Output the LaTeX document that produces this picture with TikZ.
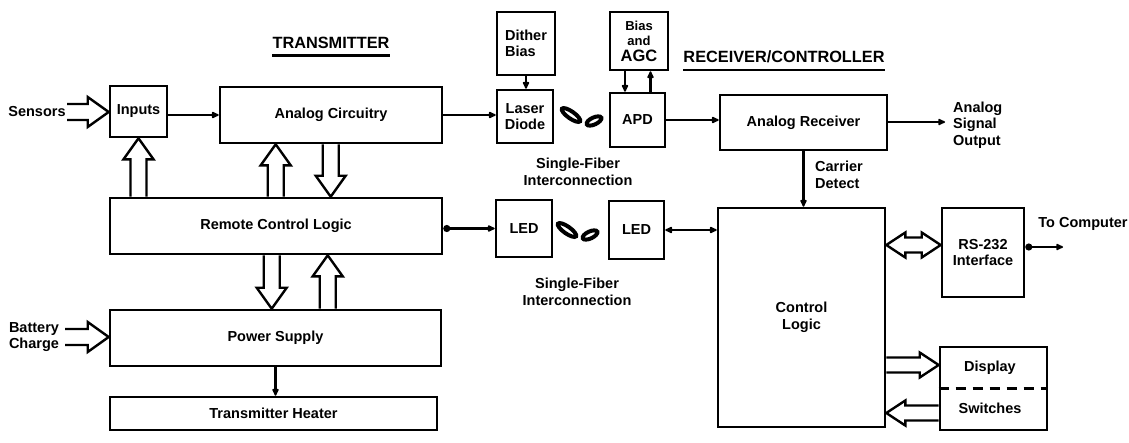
\documentclass[tikz,border=0pt]{standalone}
\usepackage{fontspec}
\setmainfont{Liberation Sans}
\usetikzlibrary{arrows.meta,calc}
% hollow arrow sizes
\def\HAw{8}\def\HAW{15}\def\HAH{21}
\newcommand\getvec[2]{%
  \path let \p1=#1, \p2=#2, \n1={atan2(\y2-\y1,\x2-\x1)}, \n2={veclen(\x2-\x1,\y2-\y1)} in
    \pgfextra{\pgfmathsetmacro\HAang{\n1}\pgfmathsetmacro\HAlenv{\n2}\xdef\HAang{\HAang}\xdef\HAlen{\HAlenv}\xdef\HAx{\x1}\xdef\HAy{\y1}};}
\newcommand\HArrow[2]{%
  \getvec{#1}{#2}%
  \begin{scope}[shift={(\HAx,\HAy)}, rotate=\HAang]
    \draw[hollow] (0pt,-\HAw pt) -- ({(\HAlen-\HAH)*1pt},-\HAw pt) -- ({(\HAlen-\HAH)*1pt},-\HAW pt)
      -- ({\HAlen*1pt},0pt) -- ({(\HAlen-\HAH)*1pt},\HAW pt) -- ({(\HAlen-\HAH)*1pt},\HAw pt) -- (0pt,\HAw pt);
  \end{scope}}
\newcommand\HDArrow[2]{%
  \getvec{#1}{#2}%
  \begin{scope}[shift={(\HAx,\HAy)}, rotate=\HAang]
    \draw[hollow] (\HAH pt,-\HAw pt) -- ({(\HAlen-\HAH)*1pt},-\HAw pt) -- ({(\HAlen-\HAH)*1pt},-\HAW pt)
      -- ({\HAlen*1pt},0pt) -- ({(\HAlen-\HAH)*1pt},\HAW pt) -- ({(\HAlen-\HAH)*1pt},\HAw pt)
      -- (\HAH pt,\HAw pt) -- (\HAH pt,\HAW pt) -- (0pt,0pt) -- (\HAH pt,-\HAW pt) -- cycle;
  \end{scope}}
\begin{document}
\begin{tikzpicture}[x=1pt,y=-1pt,
  font=\fontsize{14.5}{16.5}\selectfont\bfseries,
  box/.style={draw, line width=2.6pt, inner sep=0pt, align=center},
  lbl/.style={inner sep=0pt, align=center},
  tip/.tip={Latex[length=9pt,width=8pt,round]},
  dot/.tip={Circle[length=7pt]},
  conn/.style={line width=2.4pt, -tip},
  hollow/.style={draw, line width=2.4pt, line join=miter, fill=white},
  fiber/.style={line width=4pt},
  titlestyle/.style={inner sep=0pt, font=\fontsize{16.3}{18}\selectfont\bfseries}]
\useasboundingbox[fill=white] (0,0) rectangle (1129,442);

% titles
\node[titlestyle] (ttx) at (331,43) {TRANSMITTER};
\draw[line width=2.4pt] ([yshift=-7pt]ttx.base west) -- ([yshift=-7pt]ttx.base east);
\node[titlestyle] (trx) at (784,57) {RECEIVER/CONTROLLER};
\draw[line width=2.4pt] ([yshift=-7pt]trx.base west) -- ([yshift=-7pt]trx.base east);

% boxes
\node[box, minimum width=57pt, minimum height=51pt] (inputs) at (138.5,111.5) {Inputs};
\node[box, minimum width=222pt, minimum height=56pt] (ac) at (331,115) {Analog Circuitry};
\node[box, minimum width=58pt, minimum height=63pt, align=left] (dither) at (526,43.5) {Dither\\Bias};
\node[box, minimum width=56pt, minimum height=53pt] (laser) at (525,116.5) {Laser\\Diode};
\node[box, minimum width=58pt, minimum height=58pt, font=\fontsize{13}{15.5}\selectfont\bfseries] (bias) at (639,41) {Bias\\and\\{\fontsize{16.5}{17}\selectfont AGC}};
\node[box, minimum width=55pt, minimum height=54pt] (apd) at (637.5,120) {APD};
\node[box, minimum width=167pt, minimum height=55pt] (ar) at (803.5,122.5) {Analog Receiver};
\node[box, minimum width=332pt, minimum height=56pt] (rcl) at (276,226) {Remote Control Logic};
\node[box, minimum width=56pt, minimum height=57pt] (led1) at (524,228.5) {LED};
\node[box, minimum width=55pt, minimum height=58pt] (led2) at (636.5,230) {LED};
\node[box, minimum width=167pt, minimum height=219pt] (cl) at (801.5,317.5) {Control\\Logic};
\node[box, minimum width=82pt, minimum height=89pt] (rs) at (983,252.5) {RS-232\\Interface};
\node[box, minimum width=107pt, minimum height=83pt] (disp) at (993.5,388.5) {};
\node[lbl] (displbl) at (990,368) {Display};
\node[lbl] (swlbl) at (990,408) {Switches};
\draw[line width=2.4pt, dash pattern=on 10pt off 7pt] (disp.west) -- (disp.east);
\node[box, minimum width=331pt, minimum height=56pt] (ps) at (275.5,338) {Power Supply};
\node[box, minimum width=327pt, minimum height=33pt] (th) at (273.5,413.5) {Transmitter Heater};

% labels
\node[lbl] (sens) at (37,112) {Sensors};
\node[lbl, align=right] (batt) at (34,337) {Battery\\Charge};
\node[lbl, align=left, anchor=west] (aso) at (953,125) {Analog\\Signal\\Output};
\node[lbl, align=left, anchor=west] (cd) at (815,175) {Carrier\\Detect};
\node[lbl] (sf1) at (578,172) {Single-Fiber\\Interconnection};
\node[lbl] (sf2) at (577,292) {Single-Fiber\\Interconnection};
\node[lbl] (tc) at (1083,224) {To Computer};

% simple connectors
\draw[conn] (inputs.east |- ac.west) -- (ac.west);
\draw[conn] (ac.east) -- (ac.east -| laser.west);
\draw[conn] (dither.south) -- (dither.south |- laser.north);
\draw[conn] ([xshift=-14pt]bias.south) -- ([xshift=-14pt]bias.south |- apd.north);
\draw[conn] ([xshift=13pt]apd.north) -- ([xshift=13pt]apd.north |- bias.south);
\draw[conn] (apd.east) -- (apd.east -| ar.west);
\coordinate (outtip) at (945,122);
\draw[conn] (ar.east |- outtip) -- (outtip);
\draw[conn] (ar.south) -- (ar.south |- cl.north);
\draw[line width=2.4pt, dot-tip] (rcl.east |- led1.west) -- (led1.west);
\draw[line width=2.4pt, tip-tip] (led2.east) -- (led2.east -| cl.west);
\coordinate (tocomp) at (1063,247);
\draw[line width=2.4pt, dot-tip] (rs.east |- tocomp) -- (tocomp);
\draw[conn] (ps.south) -- (ps.south |- th.north);

% fibers
\draw[fiber, rotate around={-35:(571,115)}] (571,115) ellipse [x radius=11pt, y radius=3.5pt];
\draw[fiber, rotate around={25:(594,121)}] (594,121) ellipse [x radius=8pt, y radius=3.5pt];
\draw[fiber, rotate around={-35:(567,230)}] (567,230) ellipse [x radius=11pt, y radius=3.5pt];
\draw[fiber, rotate around={25:(590,235)}] (590,235) ellipse [x radius=8pt, y radius=3.5pt];

% hollow arrows
\coordinate (senst) at (67,112);
\HArrow{(senst)}{(senst -| inputs.west)}
\coordinate (battt) at (65,337);
\HArrow{(battt)}{(battt -| ps.west)}
\HArrow{(inputs.south |- rcl.north)}{(inputs.south)}
\HArrow{([xshift=57pt]ac.south west |- rcl.north)}{([xshift=57pt]ac.south west)}
\HArrow{([xshift=112pt]ac.south west)}{([xshift=112pt]ac.south west |- rcl.north)}
\HArrow{([xshift=163pt]rcl.south west)}{([xshift=163pt]rcl.south west |- ps.north)}
\HArrow{([xshift=219pt]ps.north west)}{([xshift=219pt]ps.north west |- rcl.south)}
\def\HAw{7.5}\def\HAW{12.5}\def\HAH{19}
\coordinate (dispin) at ([yshift=23.5pt]disp.west);
\HArrow{(cl.east |- dispin)}{(dispin)}
\coordinate (swout) at ([yshift=-24.5pt]disp.west);
\HArrow{(swout)}{(cl.east |- swout)}
\coordinate (rsin) at ([yshift=7.5pt]rs.west);
\HDArrow{(cl.east |- rsin)}{(rsin)}
\end{tikzpicture}
\end{document}
